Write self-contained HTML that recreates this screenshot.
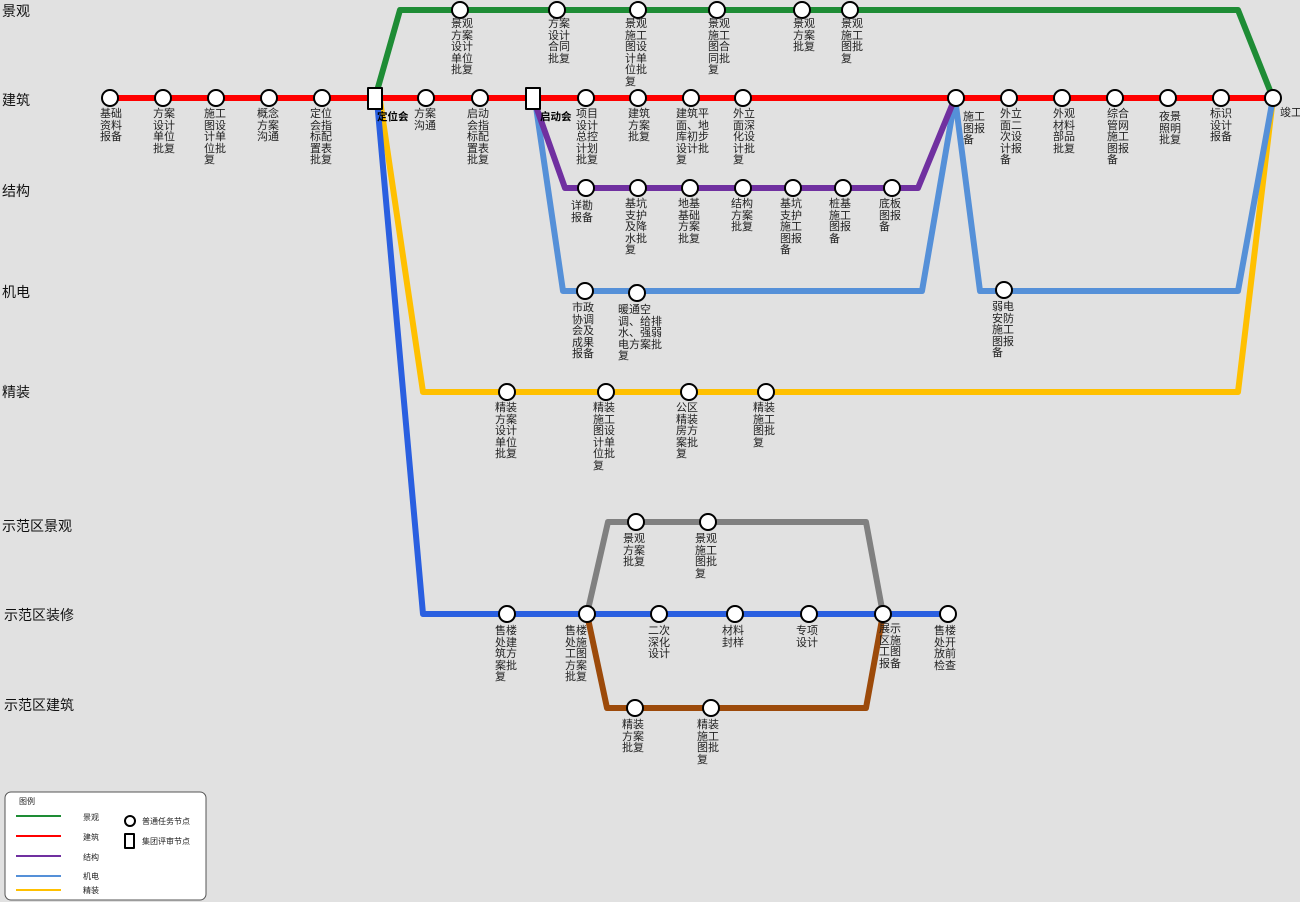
<!DOCTYPE html>
<html><head><meta charset="utf-8"><style>
body{margin:0;width:1300px;height:902px;background:#e1e1e1;position:relative;overflow:hidden;font-family:"Liberation Sans","Noto Sans CJK SC",sans-serif;}
svg{position:absolute;left:0;top:0}
.l{position:absolute;font-size:11px;line-height:11.5px;color:#222;white-space:nowrap}
.r{position:absolute;font-size:14px;color:#111}
.b{position:absolute;font-size:10.5px;font-weight:bold;color:#000}
.lg{position:absolute;font-size:8px;color:#222}
</style></head><body>
<svg width="1300" height="902" fill="none" stroke-linejoin="round">
<g stroke-width="6">
<polyline stroke="#1e8c35" points="375,98 400,10 1238,10 1273,98"/>
<polyline stroke="#ff0000" points="110,98 1273,98"/>
<polyline stroke="#ffc000" points="380,100 423,392 1238,392 1273,98"/>
<polyline stroke="#2a5fe0" points="377,100 423,614 948,614"/>
<polyline stroke="#5590d8" points="535,100 563,291 922,291 955,98 980,291 1238,291 1273,98"/>
<polyline stroke="#7030a0" points="533,98 565,188 918,188 955,98"/>
<polyline stroke="#808080" points="587,614 608,522 866,522 883,614"/>
<polyline stroke="#9c4a0a" points="587,614 607,708 866,708 883,614"/>
</g>
<g fill="#fff" stroke="#000" stroke-width="2">
<circle cx="460" cy="10" r="8"/><circle cx="557" cy="10" r="8"/><circle cx="638" cy="10" r="8"/><circle cx="717" cy="10" r="8"/><circle cx="802" cy="10" r="8"/><circle cx="850" cy="10" r="8"/>
<circle cx="110" cy="98" r="8"/><circle cx="163" cy="98" r="8"/><circle cx="216" cy="98" r="8"/><circle cx="269" cy="98" r="8"/><circle cx="322" cy="98" r="8"/><circle cx="426" cy="98" r="8"/><circle cx="480" cy="98" r="8"/><circle cx="586" cy="98" r="8"/><circle cx="638" cy="98" r="8"/><circle cx="691" cy="98" r="8"/><circle cx="743" cy="98" r="8"/><circle cx="956" cy="98" r="8"/><circle cx="1009" cy="98" r="8"/><circle cx="1062" cy="98" r="8"/><circle cx="1115" cy="98" r="8"/><circle cx="1168" cy="98" r="8"/><circle cx="1221" cy="98" r="8"/><circle cx="1273" cy="98" r="8"/>
<rect x="368" y="88" width="14" height="21"/><rect x="526" y="88" width="14" height="21"/>
<circle cx="586" cy="188" r="8"/><circle cx="638" cy="188" r="8"/><circle cx="690" cy="188" r="8"/><circle cx="743" cy="188" r="8"/><circle cx="793" cy="188" r="8"/><circle cx="843" cy="188" r="8"/><circle cx="892" cy="188" r="8"/>
<circle cx="585" cy="291" r="8"/><circle cx="637" cy="293" r="8"/><circle cx="1004" cy="290" r="8"/>
<circle cx="507" cy="392" r="8"/><circle cx="606" cy="392" r="8"/><circle cx="689" cy="392" r="8"/><circle cx="766" cy="392" r="8"/>
<circle cx="636" cy="522" r="8"/><circle cx="708" cy="522" r="8"/>
<circle cx="507" cy="614" r="8"/><circle cx="587" cy="614" r="8"/><circle cx="659" cy="614" r="8"/><circle cx="735" cy="614" r="8"/><circle cx="809" cy="614" r="8"/><circle cx="883" cy="614" r="8"/><circle cx="948" cy="614" r="8"/>
<circle cx="635" cy="708" r="8"/><circle cx="711" cy="708" r="8"/>
</g>
<rect x="5" y="792" width="201" height="108" rx="6" fill="#fff" stroke="#555" stroke-width="1"/>
<g stroke-width="2"><line x1="16" y1="816" x2="61" y2="816" stroke="#1e8c35"/><line x1="16" y1="836" x2="61" y2="836" stroke="#ff0000"/><line x1="16" y1="856" x2="61" y2="856" stroke="#7030a0"/><line x1="16" y1="876" x2="61" y2="876" stroke="#5590d8"/><line x1="16" y1="890" x2="61" y2="890" stroke="#ffc000"/></g>
<circle cx="130" cy="821" r="5" fill="#fff" stroke="#000" stroke-width="2"/>
<rect x="125" y="834" width="9" height="14" fill="#fff" stroke="#000" stroke-width="2"/>
</svg>
<div class="r" style="left:2px;top:1px">景观</div>
<div class="r" style="left:2px;top:90px">建筑</div>
<div class="r" style="left:2px;top:181px">结构</div>
<div class="r" style="left:2px;top:282px">机电</div>
<div class="r" style="left:2px;top:382px">精装</div>
<div class="r" style="left:2px;top:516px">示范区景观</div>
<div class="r" style="left:4px;top:605px">示范区装修</div>
<div class="r" style="left:4px;top:695px">示范区建筑</div>

<div class="l" style="left:451px;top:19px">景观<br>方案<br>设计<br>单位<br>批复</div>
<div class="l" style="left:548px;top:19px">方案<br>设计<br>合同<br>批复</div>
<div class="l" style="left:625px;top:19px">景观<br>施工<br>图设<br>计单<br>位批<br>复</div>
<div class="l" style="left:708px;top:19px">景观<br>施工<br>图合<br>同批<br>复</div>
<div class="l" style="left:793px;top:19px">景观<br>方案<br>批复</div>
<div class="l" style="left:841px;top:19px">景观<br>施工<br>图批<br>复</div>

<div class="l" style="left:100px;top:109px">基础<br>资料<br>报备</div>
<div class="l" style="left:153px;top:109px">方案<br>设计<br>单位<br>批复</div>
<div class="l" style="left:204px;top:109px">施工<br>图设<br>计单<br>位批<br>复</div>
<div class="l" style="left:257px;top:109px">概念<br>方案<br>沟通</div>
<div class="l" style="left:310px;top:109px">定位<br>会指<br>标配<br>置表<br>批复</div>
<div class="b" style="left:377px;top:109px">定位会</div>
<div class="l" style="left:414px;top:109px">方案<br>沟通</div>
<div class="l" style="left:467px;top:109px">启动<br>会指<br>标配<br>置表<br>批复</div>
<div class="b" style="left:540px;top:109px">启动会</div>
<div class="l" style="left:576px;top:109px">项目<br>设计<br>总控<br>计划<br>批复</div>
<div class="l" style="left:628px;top:109px">建筑<br>方案<br>批复</div>
<div class="l" style="left:676px;top:109px">建筑平<br>面、地<br>库初步<br>设计批<br>复</div>
<div class="l" style="left:733px;top:109px">外立<br>面深<br>化设<br>计批<br>复</div>
<div class="l" style="left:963px;top:112px">施工<br>图报<br>备</div>
<div class="l" style="left:1000px;top:109px">外立<br>面二<br>次设<br>计报<br>备</div>
<div class="l" style="left:1053px;top:109px">外观<br>材料<br>部品<br>批复</div>
<div class="l" style="left:1107px;top:109px">综合<br>管网<br>施工<br>图报<br>备</div>
<div class="l" style="left:1159px;top:112px">夜景<br>照明<br>批复</div>
<div class="l" style="left:1210px;top:109px">标识<br>设计<br>报备</div>
<div class="l" style="left:1280px;top:108px">竣工</div>

<div class="l" style="left:571px;top:201px">详勘<br>报备</div>
<div class="l" style="left:625px;top:199px">基坑<br>支护<br>及降<br>水批<br>复</div>
<div class="l" style="left:678px;top:199px">地基<br>基础<br>方案<br>批复</div>
<div class="l" style="left:731px;top:199px">结构<br>方案<br>批复</div>
<div class="l" style="left:780px;top:199px">基坑<br>支护<br>施工<br>图报<br>备</div>
<div class="l" style="left:829px;top:199px">桩基<br>施工<br>图报<br>备</div>
<div class="l" style="left:879px;top:199px">底板<br>图报<br>备</div>

<div class="l" style="left:572px;top:303px">市政<br>协调<br>会及<br>成果<br>报备</div>
<div class="l" style="left:618px;top:305px">暖通空<br>调、给排<br>水、强弱<br>电方案批<br>复</div>
<div class="l" style="left:992px;top:302px">弱电<br>安防<br>施工<br>图报<br>备</div>

<div class="l" style="left:495px;top:403px">精装<br>方案<br>设计<br>单位<br>批复</div>
<div class="l" style="left:593px;top:403px">精装<br>施工<br>图设<br>计单<br>位批<br>复</div>
<div class="l" style="left:676px;top:403px">公区<br>精装<br>房方<br>案批<br>复</div>
<div class="l" style="left:753px;top:403px">精装<br>施工<br>图批<br>复</div>

<div class="l" style="left:623px;top:534px">景观<br>方案<br>批复</div>
<div class="l" style="left:695px;top:534px">景观<br>施工<br>图批<br>复</div>

<div class="l" style="left:495px;top:626px">售楼<br>处建<br>筑方<br>案批<br>复</div>
<div class="l" style="left:565px;top:626px">售楼<br>处施<br>工图<br>方案<br>批复</div>
<div class="l" style="left:648px;top:626px">二次<br>深化<br>设计</div>
<div class="l" style="left:722px;top:626px">材料<br>封样</div>
<div class="l" style="left:796px;top:626px">专项<br>设计</div>
<div class="l" style="left:879px;top:624px">展示<br>区施<br>工图<br>报备</div>
<div class="l" style="left:934px;top:626px">售楼<br>处开<br>放前<br>检查</div>

<div class="l" style="left:622px;top:720px">精装<br>方案<br>批复</div>
<div class="l" style="left:697px;top:720px">精装<br>施工<br>图批<br>复</div>

<div class="lg" style="left:19px;top:796px">图例</div>
<div class="lg" style="left:83px;top:812px">景观</div>
<div class="lg" style="left:83px;top:832px">建筑</div>
<div class="lg" style="left:83px;top:852px">结构</div>
<div class="lg" style="left:83px;top:871px">机电</div>
<div class="lg" style="left:83px;top:885px">精装</div>
<div class="lg" style="left:142px;top:816px">普通任务节点</div>
<div class="lg" style="left:142px;top:836px">集团评审节点</div>
</body></html>
